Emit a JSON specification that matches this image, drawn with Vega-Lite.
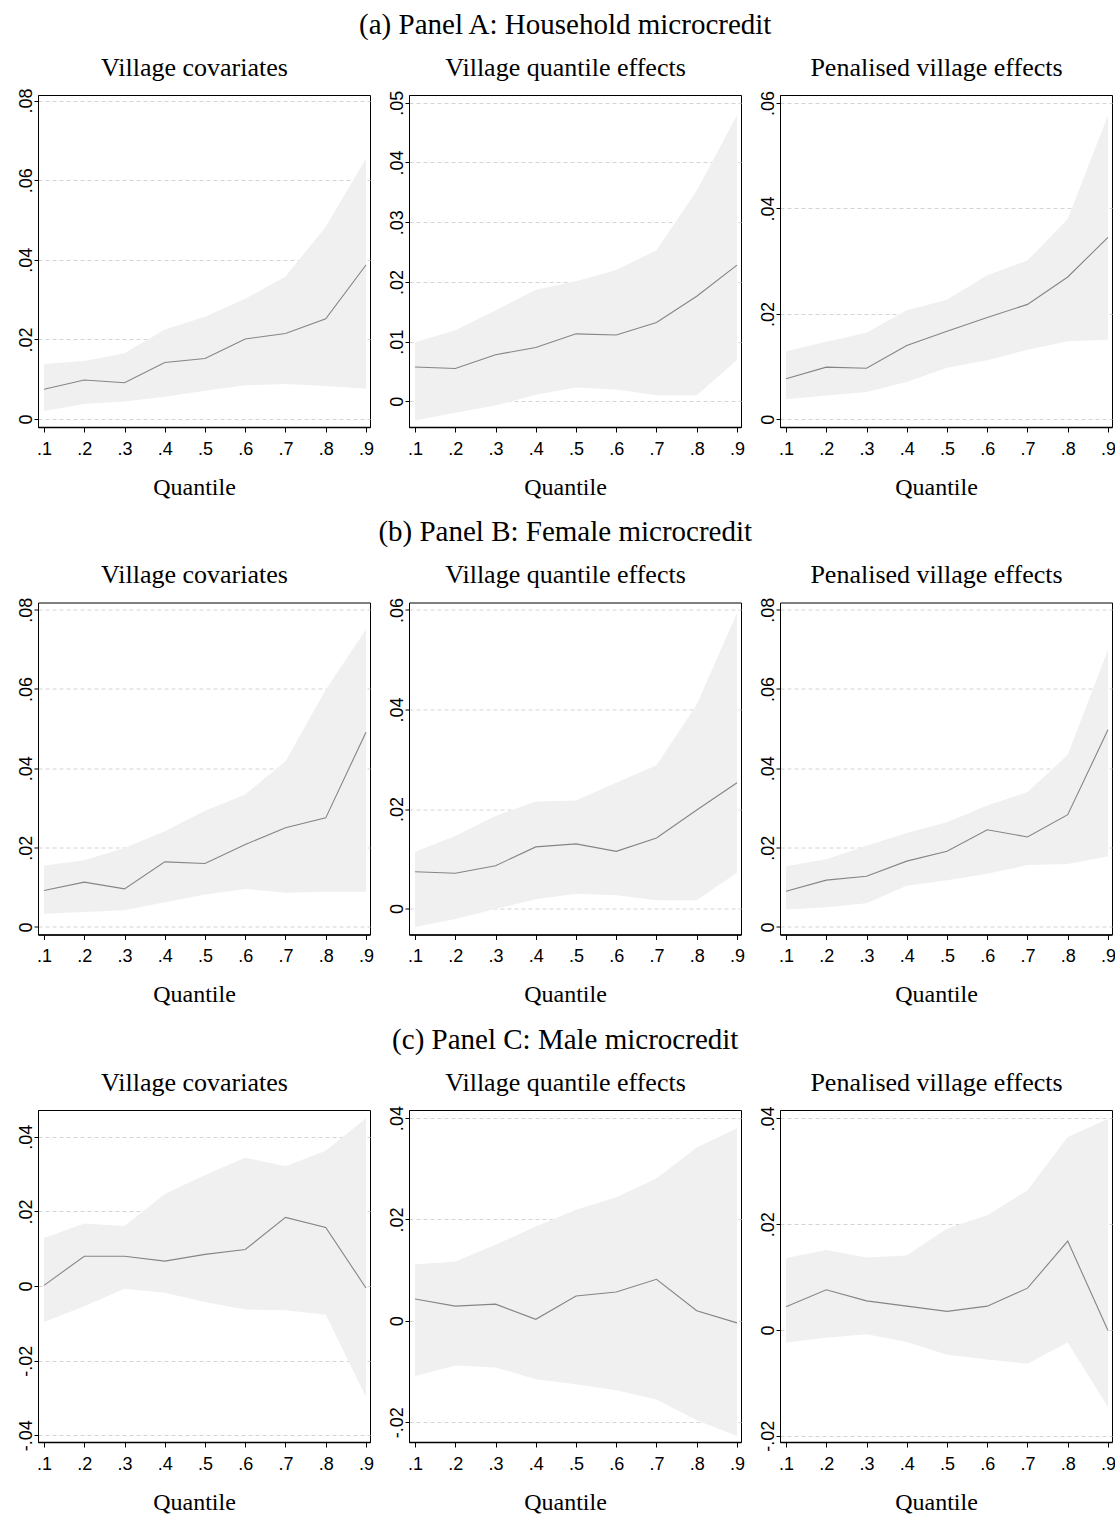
{
  "$schema": "https://vega.github.io/schema/vega-lite/v6.json",
  "padding": {"top": 10, "left": 0, "right": 0, "bottom": 0},
  "background": "white",
  "datasets": {
    "A1": [
      {"q": 0.1, "est": 0.0075, "lo": 0.0020, "hi": 0.0138},
      {"q": 0.2, "est": 0.0098, "lo": 0.0038, "hi": 0.0146},
      {"q": 0.3, "est": 0.0091, "lo": 0.0044, "hi": 0.0165},
      {"q": 0.4, "est": 0.0142, "lo": 0.0056, "hi": 0.0225},
      {"q": 0.5, "est": 0.0152, "lo": 0.0071, "hi": 0.0257},
      {"q": 0.6, "est": 0.0201, "lo": 0.0085, "hi": 0.0302},
      {"q": 0.7, "est": 0.0215, "lo": 0.0088, "hi": 0.0358},
      {"q": 0.8, "est": 0.0252, "lo": 0.0083, "hi": 0.0483},
      {"q": 0.9, "est": 0.0387, "lo": 0.0076, "hi": 0.0655}
    ],
    "A2": [
      {"q": 0.1, "est": 0.00575, "lo": -0.0032, "hi": 0.0099},
      {"q": 0.2, "est": 0.0055, "lo": -0.0019, "hi": 0.0119},
      {"q": 0.3, "est": 0.0078, "lo": -0.0007, "hi": 0.0152},
      {"q": 0.4, "est": 0.0090, "lo": 0.0011, "hi": 0.0187},
      {"q": 0.5, "est": 0.0113, "lo": 0.0023, "hi": 0.0201},
      {"q": 0.6, "est": 0.0111, "lo": 0.0020, "hi": 0.0220},
      {"q": 0.7, "est": 0.0132, "lo": 0.0010, "hi": 0.0253},
      {"q": 0.8, "est": 0.0176, "lo": 0.0010, "hi": 0.0353},
      {"q": 0.9, "est": 0.0228, "lo": 0.0069, "hi": 0.0479}
    ],
    "A3": [
      {"q": 0.1, "est": 0.0077, "lo": 0.0038, "hi": 0.0129},
      {"q": 0.2, "est": 0.0099, "lo": 0.0045, "hi": 0.0147},
      {"q": 0.3, "est": 0.0097, "lo": 0.0052, "hi": 0.0164},
      {"q": 0.4, "est": 0.0140, "lo": 0.0071, "hi": 0.0207},
      {"q": 0.5, "est": 0.0167, "lo": 0.0098, "hi": 0.0227},
      {"q": 0.6, "est": 0.0193, "lo": 0.0112, "hi": 0.0273},
      {"q": 0.7, "est": 0.0218, "lo": 0.0132, "hi": 0.0301},
      {"q": 0.8, "est": 0.0270, "lo": 0.0148, "hi": 0.0380},
      {"q": 0.9, "est": 0.0345, "lo": 0.0151, "hi": 0.0576}
    ],
    "B1": [
      {"q": 0.1, "est": 0.0092, "lo": 0.0033, "hi": 0.0155},
      {"q": 0.2, "est": 0.0113, "lo": 0.0038, "hi": 0.0168},
      {"q": 0.3, "est": 0.0096, "lo": 0.0042, "hi": 0.0199},
      {"q": 0.4, "est": 0.0164, "lo": 0.0062, "hi": 0.0241},
      {"q": 0.5, "est": 0.0160, "lo": 0.0082, "hi": 0.0293},
      {"q": 0.6, "est": 0.0208, "lo": 0.0096, "hi": 0.0334},
      {"q": 0.7, "est": 0.0250, "lo": 0.0086, "hi": 0.0418},
      {"q": 0.8, "est": 0.0275, "lo": 0.0089, "hi": 0.0598},
      {"q": 0.9, "est": 0.0491, "lo": 0.0089, "hi": 0.0750}
    ],
    "B2": [
      {"q": 0.1, "est": 0.0074, "lo": -0.0037, "hi": 0.0114},
      {"q": 0.2, "est": 0.0071, "lo": -0.0021, "hi": 0.0146},
      {"q": 0.3, "est": 0.0086, "lo": -0.0001, "hi": 0.0186},
      {"q": 0.4, "est": 0.0124, "lo": 0.0019, "hi": 0.0215},
      {"q": 0.5, "est": 0.0130, "lo": 0.0030, "hi": 0.0217},
      {"q": 0.6, "est": 0.0115, "lo": 0.0027, "hi": 0.0253},
      {"q": 0.7, "est": 0.0142, "lo": 0.0017, "hi": 0.0288},
      {"q": 0.8, "est": 0.0198, "lo": 0.0017, "hi": 0.0410},
      {"q": 0.9, "est": 0.0253, "lo": 0.0072, "hi": 0.0594}
    ],
    "B3": [
      {"q": 0.1, "est": 0.0090, "lo": 0.0044, "hi": 0.0153},
      {"q": 0.2, "est": 0.0118, "lo": 0.0050, "hi": 0.0171},
      {"q": 0.3, "est": 0.0128, "lo": 0.0060, "hi": 0.0205},
      {"q": 0.4, "est": 0.0166, "lo": 0.0104, "hi": 0.0237},
      {"q": 0.5, "est": 0.0191, "lo": 0.0118, "hi": 0.0264},
      {"q": 0.6, "est": 0.0245, "lo": 0.0134, "hi": 0.0306},
      {"q": 0.7, "est": 0.0227, "lo": 0.0156, "hi": 0.0340},
      {"q": 0.8, "est": 0.0283, "lo": 0.0159, "hi": 0.0434},
      {"q": 0.9, "est": 0.0497, "lo": 0.0178, "hi": 0.0699}
    ],
    "C1": [
      {"q": 0.1, "est": 0.0002, "lo": -0.0096, "hi": 0.0129},
      {"q": 0.2, "est": 0.0080, "lo": -0.0054, "hi": 0.0168},
      {"q": 0.3, "est": 0.0080, "lo": -0.0007, "hi": 0.0161},
      {"q": 0.4, "est": 0.0067, "lo": -0.0018, "hi": 0.0247},
      {"q": 0.5, "est": 0.0085, "lo": -0.0043, "hi": 0.0298},
      {"q": 0.6, "est": 0.0098, "lo": -0.0063, "hi": 0.0344},
      {"q": 0.7, "est": 0.0184, "lo": -0.0065, "hi": 0.0321},
      {"q": 0.8, "est": 0.0157, "lo": -0.0077, "hi": 0.0363},
      {"q": 0.9, "est": -0.0005, "lo": -0.0297, "hi": 0.0450}
    ],
    "C2": [
      {"q": 0.1, "est": 0.0043, "lo": -0.0109, "hi": 0.0111},
      {"q": 0.2, "est": 0.0029, "lo": -0.0088, "hi": 0.0117},
      {"q": 0.3, "est": 0.0033, "lo": -0.0092, "hi": 0.0150},
      {"q": 0.4, "est": 0.0003, "lo": -0.0115, "hi": 0.0186},
      {"q": 0.5, "est": 0.0049, "lo": -0.0125, "hi": 0.0219},
      {"q": 0.6, "est": 0.0057, "lo": -0.0137, "hi": 0.0244},
      {"q": 0.7, "est": 0.0082, "lo": -0.0155, "hi": 0.0281},
      {"q": 0.8, "est": 0.0020, "lo": -0.0196, "hi": 0.0342},
      {"q": 0.9, "est": -0.0004, "lo": -0.0227, "hi": 0.0380}
    ],
    "C3": [
      {"q": 0.1, "est": 0.0044, "lo": -0.0024, "hi": 0.0136},
      {"q": 0.2, "est": 0.0076, "lo": -0.0015, "hi": 0.0151},
      {"q": 0.3, "est": 0.0055, "lo": -0.0008, "hi": 0.0137},
      {"q": 0.4, "est": 0.0045, "lo": -0.0023, "hi": 0.0141},
      {"q": 0.5, "est": 0.0035, "lo": -0.0047, "hi": 0.0192},
      {"q": 0.6, "est": 0.0045, "lo": -0.0056, "hi": 0.0217},
      {"q": 0.7, "est": 0.0079, "lo": -0.0064, "hi": 0.0264},
      {"q": 0.8, "est": 0.0168, "lo": -0.0024, "hi": 0.0365},
      {"q": 0.9, "est": -0.0001, "lo": -0.0146, "hi": 0.0399}
    ]
  },
  "spacing": 17.5,
  "vconcat": [
    {
      "title": {"text": "(a) Panel A: Household microcredit"},
      "spacing": 39,
      "bounds": "flush",
      "hconcat": [
        {
          "width": 332, "height": 332,
          "data": {"name": "A1"},
          "resolve": {"axis": {"x": "independent"}},
          "layer": [
            {"mark": {"type": "area", "color": "#f0f0f0", "opacity": 1},
             "encoding": {
               "x": {"field": "q", "type": "quantitative", "scale": {"domain": [0.085, 0.91], "nice": false, "zero": false}, "axis": {"orient": "bottom", "values": [0.1,0.2,0.3,0.4,0.5,0.6,0.7,0.8,0.9], "title": "Quantile"}},
               "y": {"field": "lo", "type": "quantitative", "scale": {"domain": [-0.002, 0.0814], "nice": false, "zero": false}, "axis": {"values": [0,0.02,0.04,0.06,0.08], "title": null}},
               "y2": {"field": "hi"}
             }},
            {"mark": {"type": "line", "color": "#858585", "strokeWidth": 1.1},
             "encoding": {
               "x": {"field": "q", "type": "quantitative", "axis": {"orient": "top", "title": "Village covariates"}},
               "y": {"field": "est", "type": "quantitative"}
             }}
          ]
        },
        {
          "width": 332, "height": 332,
          "data": {"name": "A2"},
          "resolve": {"axis": {"x": "independent"}},
          "layer": [
            {"mark": {"type": "area", "color": "#f0f0f0", "opacity": 1},
             "encoding": {
               "x": {"field": "q", "type": "quantitative", "scale": {"domain": [0.085, 0.91], "nice": false, "zero": false}, "axis": {"orient": "bottom", "values": [0.1,0.2,0.3,0.4,0.5,0.6,0.7,0.8,0.9], "title": "Quantile"}},
               "y": {"field": "lo", "type": "quantitative", "scale": {"domain": [-0.0043, 0.0513], "nice": false, "zero": false}, "axis": {"values": [0,0.01,0.02,0.03,0.04,0.05], "title": null}},
               "y2": {"field": "hi"}
             }},
            {"mark": {"type": "line", "color": "#858585", "strokeWidth": 1.1},
             "encoding": {
               "x": {"field": "q", "type": "quantitative", "axis": {"orient": "top", "title": "Village quantile effects"}},
               "y": {"field": "est", "type": "quantitative"}
             }}
          ]
        },
        {
          "width": 332, "height": 332,
          "data": {"name": "A3"},
          "resolve": {"axis": {"x": "independent"}},
          "layer": [
            {"mark": {"type": "area", "color": "#f0f0f0", "opacity": 1},
             "encoding": {
               "x": {"field": "q", "type": "quantitative", "scale": {"domain": [0.085, 0.91], "nice": false, "zero": false}, "axis": {"orient": "bottom", "values": [0.1,0.2,0.3,0.4,0.5,0.6,0.7,0.8,0.9], "title": "Quantile"}},
               "y": {"field": "lo", "type": "quantitative", "scale": {"domain": [-0.00145, 0.0615], "nice": false, "zero": false}, "axis": {"values": [0,0.02,0.04,0.06], "title": null}},
               "y2": {"field": "hi"}
             }},
            {"mark": {"type": "line", "color": "#858585", "strokeWidth": 1.1},
             "encoding": {
               "x": {"field": "q", "type": "quantitative", "axis": {"orient": "top", "title": "Penalised village effects"}},
               "y": {"field": "est", "type": "quantitative"}
             }}
          ]
        }
      ]
    },
    {
      "title": {"text": "(b) Panel B: Female microcredit"},
      "spacing": 39,
      "bounds": "flush",
      "hconcat": [
        {
          "width": 332, "height": 332,
          "data": {"name": "B1"},
          "resolve": {"axis": {"x": "independent"}},
          "layer": [
            {"mark": {"type": "area", "color": "#f0f0f0", "opacity": 1},
             "encoding": {
               "x": {"field": "q", "type": "quantitative", "scale": {"domain": [0.085, 0.91], "nice": false, "zero": false}, "axis": {"orient": "bottom", "values": [0.1,0.2,0.3,0.4,0.5,0.6,0.7,0.8,0.9], "title": "Quantile"}},
               "y": {"field": "lo", "type": "quantitative", "scale": {"domain": [-0.0019, 0.0818], "nice": false, "zero": false}, "axis": {"values": [0,0.02,0.04,0.06,0.08], "title": null}},
               "y2": {"field": "hi"}
             }},
            {"mark": {"type": "line", "color": "#858585", "strokeWidth": 1.1},
             "encoding": {
               "x": {"field": "q", "type": "quantitative", "axis": {"orient": "top", "title": "Village covariates"}},
               "y": {"field": "est", "type": "quantitative"}
             }}
          ]
        },
        {
          "width": 332, "height": 332,
          "data": {"name": "B2"},
          "resolve": {"axis": {"x": "independent"}},
          "layer": [
            {"mark": {"type": "area", "color": "#f0f0f0", "opacity": 1},
             "encoding": {
               "x": {"field": "q", "type": "quantitative", "scale": {"domain": [0.085, 0.91], "nice": false, "zero": false}, "axis": {"orient": "bottom", "values": [0.1,0.2,0.3,0.4,0.5,0.6,0.7,0.8,0.9], "title": "Quantile"}},
               "y": {"field": "lo", "type": "quantitative", "scale": {"domain": [-0.0052, 0.0615], "nice": false, "zero": false}, "axis": {"values": [0,0.02,0.04,0.06], "title": null}},
               "y2": {"field": "hi"}
             }},
            {"mark": {"type": "line", "color": "#858585", "strokeWidth": 1.1},
             "encoding": {
               "x": {"field": "q", "type": "quantitative", "axis": {"orient": "top", "title": "Village quantile effects"}},
               "y": {"field": "est", "type": "quantitative"}
             }}
          ]
        },
        {
          "width": 332, "height": 332,
          "data": {"name": "B3"},
          "resolve": {"axis": {"x": "independent"}},
          "layer": [
            {"mark": {"type": "area", "color": "#f0f0f0", "opacity": 1},
             "encoding": {
               "x": {"field": "q", "type": "quantitative", "scale": {"domain": [0.085, 0.91], "nice": false, "zero": false}, "axis": {"orient": "bottom", "values": [0.1,0.2,0.3,0.4,0.5,0.6,0.7,0.8,0.9], "title": "Quantile"}},
               "y": {"field": "lo", "type": "quantitative", "scale": {"domain": [-0.0019, 0.0818], "nice": false, "zero": false}, "axis": {"values": [0,0.02,0.04,0.06,0.08], "title": null}},
               "y2": {"field": "hi"}
             }},
            {"mark": {"type": "line", "color": "#858585", "strokeWidth": 1.1},
             "encoding": {
               "x": {"field": "q", "type": "quantitative", "axis": {"orient": "top", "title": "Penalised village effects"}},
               "y": {"field": "est", "type": "quantitative"}
             }}
          ]
        }
      ]
    },
    {
      "title": {"text": "(c) Panel C: Male microcredit"},
      "spacing": 39,
      "bounds": "flush",
      "hconcat": [
        {
          "width": 332, "height": 332,
          "data": {"name": "C1"},
          "resolve": {"axis": {"x": "independent"}},
          "layer": [
            {"mark": {"type": "area", "color": "#f0f0f0", "opacity": 1},
             "encoding": {
               "x": {"field": "q", "type": "quantitative", "scale": {"domain": [0.085, 0.91], "nice": false, "zero": false}, "axis": {"orient": "bottom", "values": [0.1,0.2,0.3,0.4,0.5,0.6,0.7,0.8,0.9], "title": "Quantile"}},
               "y": {"field": "lo", "type": "quantitative", "scale": {"domain": [-0.0418, 0.0472], "nice": false, "zero": false}, "axis": {"values": [-0.04,-0.02,0,0.02,0.04], "title": null}},
               "y2": {"field": "hi"}
             }},
            {"mark": {"type": "line", "color": "#858585", "strokeWidth": 1.1},
             "encoding": {
               "x": {"field": "q", "type": "quantitative", "axis": {"orient": "top", "title": "Village covariates"}},
               "y": {"field": "est", "type": "quantitative"}
             }}
          ]
        },
        {
          "width": 332, "height": 332,
          "data": {"name": "C2"},
          "resolve": {"axis": {"x": "independent"}},
          "layer": [
            {"mark": {"type": "area", "color": "#f0f0f0", "opacity": 1},
             "encoding": {
               "x": {"field": "q", "type": "quantitative", "scale": {"domain": [0.085, 0.91], "nice": false, "zero": false}, "axis": {"orient": "bottom", "values": [0.1,0.2,0.3,0.4,0.5,0.6,0.7,0.8,0.9], "title": "Quantile"}},
               "y": {"field": "lo", "type": "quantitative", "scale": {"domain": [-0.0239, 0.0416], "nice": false, "zero": false}, "axis": {"values": [-0.02,0,0.02,0.04], "title": null}},
               "y2": {"field": "hi"}
             }},
            {"mark": {"type": "line", "color": "#858585", "strokeWidth": 1.1},
             "encoding": {
               "x": {"field": "q", "type": "quantitative", "axis": {"orient": "top", "title": "Village quantile effects"}},
               "y": {"field": "est", "type": "quantitative"}
             }}
          ]
        },
        {
          "width": 332, "height": 332,
          "data": {"name": "C3"},
          "resolve": {"axis": {"x": "independent"}},
          "layer": [
            {"mark": {"type": "area", "color": "#f0f0f0", "opacity": 1},
             "encoding": {
               "x": {"field": "q", "type": "quantitative", "scale": {"domain": [0.085, 0.91], "nice": false, "zero": false}, "axis": {"orient": "bottom", "values": [0.1,0.2,0.3,0.4,0.5,0.6,0.7,0.8,0.9], "title": "Quantile"}},
               "y": {"field": "lo", "type": "quantitative", "scale": {"domain": [-0.0212, 0.0416], "nice": false, "zero": false}, "axis": {"values": [-0.02,0,0.02,0.04], "title": null}},
               "y2": {"field": "hi"}
             }},
            {"mark": {"type": "line", "color": "#858585", "strokeWidth": 1.1},
             "encoding": {
               "x": {"field": "q", "type": "quantitative", "axis": {"orient": "top", "title": "Penalised village effects"}},
               "y": {"field": "est", "type": "quantitative"}
             }}
          ]
        }
      ]
    }
  ],
  "config": {
    "view": {"stroke": "#000000", "strokeWidth": 1},
    "title": {"font": "Liberation Serif", "fontSize": 29, "fontWeight": "normal", "color": "#000000", "anchor": "middle", "frame": "bounds", "baseline": "alphabetic", "offset": 14, "dx": 7},
    "axis": {"labelColor": "#000000", "tickColor": "#000000", "domainColor": "#000000", "titleColor": "#000000", "grid": false, "labelFlush": false, "labelOverlap": false},
    "axisY": {
      "grid": true, "gridColor": "#d4d4d4", "gridDash": [4, 3], "gridWidth": 1,
      "labelAngle": -90, "labelAlign": "center", "labelBaseline": "alphabetic",
      "labelFont": "Liberation Sans", "labelFontSize": 18,
      "labelExpr": "datum.value == 0 ? '0' : replace(replace(format(datum.value, '.2f'), '0.', '.'), '\u2212', '-')",
      "tickSize": 4, "labelPadding": 3, "minExtent": 37, "maxExtent": 37, "domainWidth": 1
    },
    "axisBottom": {
      "labelFont": "Liberation Sans", "labelFontSize": 18,
      "labelExpr": "replace(format(datum.value, '.1f'), '0.', '.')",
      "tickSize": 5, "labelPadding": 8, "domainWidth": 1.5,
      "titleFont": "Liberation Serif", "titleFontSize": 24, "titleFontWeight": "normal",
      "titleBaseline": "alphabetic", "titlePadding": 36, "titleX": 156, "titleAlign": "center"
    },
    "axisTop": {
      "labels": false, "ticks": false, "domain": false, "grid": false,
      "titleFont": "Liberation Serif", "titleFontSize": 26, "titleFontWeight": "normal",
      "titleBaseline": "alphabetic", "titlePadding": 20, "minExtent": 0, "titleX": 156, "titleAlign": "center"
    }
  }
}
